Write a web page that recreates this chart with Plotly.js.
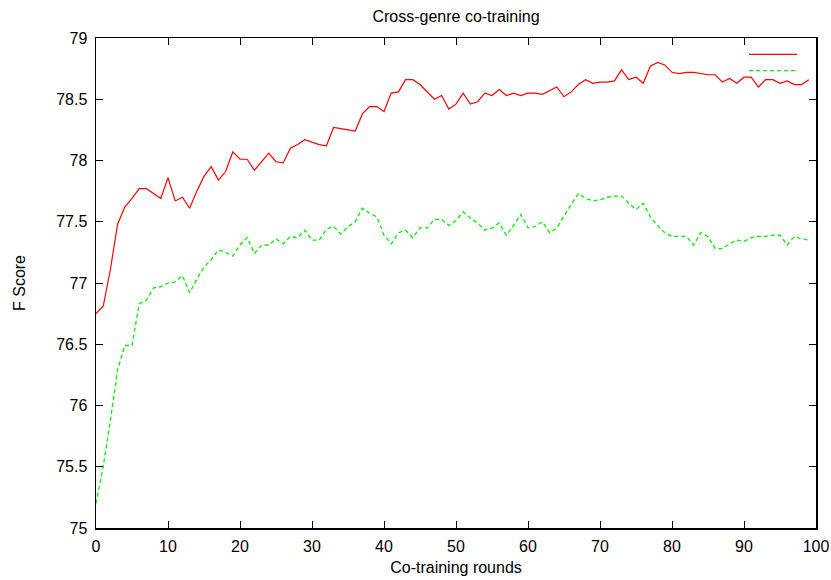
<!DOCTYPE html>
<html>
<head>
<meta charset="utf-8">
<script src="https://cdn.plot.ly/plotly-3.0.1.min.js"></script>
<style>html,body{margin:0;padding:0;background:#fff;}#chart{width:831px;height:580px;}</style>
</head>
<body>
<div id="chart"></div>
<script>
var rounds = [];
for (var i = 0; i < 100; i++) rounds.push(i);

var redScores = [
  76.75, 76.81, 77.11, 77.48, 77.62, 77.69, 77.77, 77.77, 77.73, 77.69,
  77.86, 77.67, 77.70, 77.61, 77.75, 77.87, 77.95, 77.84, 77.91, 78.07,
  78.01, 78.01, 77.92, 77.99, 78.06, 77.99, 77.98, 78.10, 78.13, 78.17,
  78.15, 78.13, 78.12, 78.27, 78.26, 78.25, 78.24, 78.38, 78.44, 78.44,
  78.40, 78.55, 78.56, 78.66, 78.66, 78.62, 78.56, 78.50, 78.53, 78.42,
  78.46, 78.55, 78.46, 78.48, 78.55, 78.53, 78.58, 78.53, 78.55, 78.53,
  78.55, 78.55, 78.54, 78.57, 78.60, 78.52, 78.56, 78.62, 78.66, 78.63,
  78.64, 78.64, 78.65, 78.74, 78.66, 78.68, 78.63, 78.77, 78.80, 78.78,
  78.72, 78.71, 78.72, 78.72, 78.71, 78.70, 78.70, 78.64, 78.67, 78.63,
  78.68, 78.68, 78.60, 78.66, 78.66, 78.63, 78.65, 78.62, 78.62, 78.66
];

var greenScores = [
  75.20, 75.50, 75.88, 76.29, 76.49, 76.49, 76.83, 76.86, 76.96, 76.97,
  77.00, 77.01, 77.06, 76.92, 77.03, 77.13, 77.19, 77.27, 77.25, 77.22,
  77.31, 77.37, 77.24, 77.31, 77.31, 77.36, 77.32, 77.38, 77.37, 77.43,
  77.35, 77.35, 77.44, 77.46, 77.40, 77.46, 77.50, 77.61, 77.57, 77.54,
  77.39, 77.32, 77.41, 77.43, 77.37, 77.45, 77.45, 77.52, 77.52, 77.47,
  77.51, 77.58, 77.53, 77.49, 77.43, 77.45, 77.49, 77.39, 77.47, 77.56,
  77.45, 77.46, 77.50, 77.41, 77.45, 77.55, 77.64, 77.73, 77.69, 77.67,
  77.68, 77.70, 77.71, 77.71, 77.65, 77.60, 77.65, 77.54, 77.47, 77.41,
  77.38, 77.38, 77.38, 77.31, 77.41, 77.38, 77.28, 77.28, 77.32, 77.35,
  77.34, 77.37, 77.38, 77.38, 77.39, 77.39, 77.31, 77.38, 77.36, 77.35
];

var xTicks = [0, 10, 20, 30, 40, 50, 60, 70, 80, 90, 100];
var yTicks = [75, 75.5, 76, 76.5, 77, 77.5, 78, 78.5, 79];

var fam = 'Liberation Sans, Arial, Helvetica, sans-serif';
var font = {family: fam, size: 16, color: '#000'};

var traces = [
  {x: rounds, y: redScores, type: 'scatter', mode: 'lines', name: ' ', legend: 'legend',
   line: {color: 'rgb(255,0,0)', width: 1.2}},
  {x: rounds, y: greenScores, type: 'scatter', mode: 'lines', name: ' ', legend: 'legend2',
   line: {color: 'rgb(0,240,0)', width: 1.3, dash: '4px,3px'}}
];

var axisCommon = {
  showgrid: false, zeroline: false, showline: true, linecolor: '#000', linewidth: 1.5,
  mirror: 'ticks', ticks: 'inside', ticklen: 7, tickwidth: 1, tickcolor: '#000',
  tickfont: font
};

var legendCommon = {x: 0.9, xanchor: 'left', yanchor: 'top', bgcolor: 'rgba(0,0,0,0)',
                    font: {size: 9}, itemwidth: 48};

var layout = {
  width: 831, height: 580,
  margin: {l: 96, r: 15, t: 38, b: 52},
  paper_bgcolor: '#fff', plot_bgcolor: '#fff',
  font: font,
  title: {text: 'Cross-genre co-training', x: 0.5, xref: 'paper', xanchor: 'center',
          y: 0.972, yref: 'container', yanchor: 'middle', font: font},
  xaxis: Object.assign({}, axisCommon, {
    range: [0, 100], tickvals: xTicks, ticktext: xTicks.map(String),
    ticklabelstandoff: 3,
    title: {text: 'Co-training rounds', font: font, standoff: 8}
  }),
  yaxis: Object.assign({}, axisCommon, {
    range: [75, 79], tickvals: yTicks, ticktext: yTicks.map(String),
    ticklabelstandoff: 4,
    title: {text: 'F Score', font: font, standoff: 26}
  }),
  showlegend: true,
  legend: Object.assign({}, legendCommon, {y: 0.996}),
  legend2: Object.assign({}, legendCommon, {y: 0.963}),
  hovermode: false
};

Plotly.newPlot('chart', traces, layout, {displayModeBar: false, staticPlot: true});
</script>
</body>
</html>
